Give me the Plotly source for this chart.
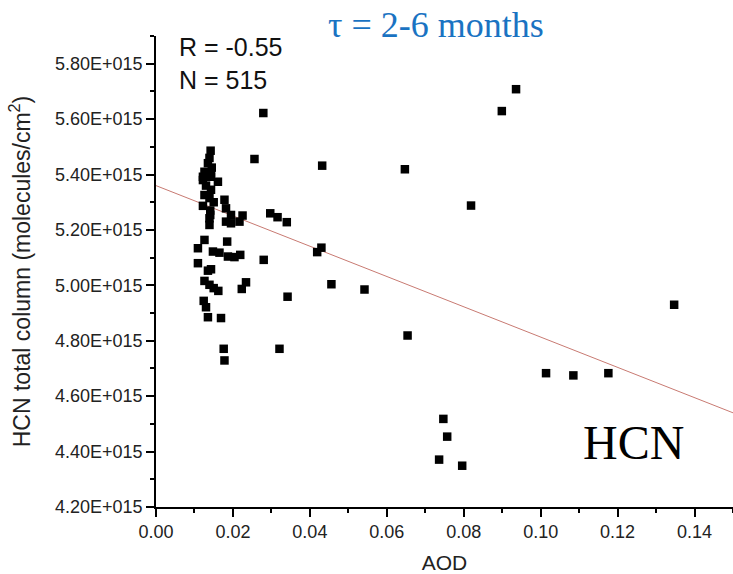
import plotly.graph_objects as go

# AOD values (x) and HCN total column in units of 1E15 molecules/cm^2 (y)
aod = [0.0936, 0.0899, 0.0432, 0.0647, 0.0819, 0.0430, 0.0419, 0.0456, 0.0542, 0.0654,
       0.1347, 0.1014, 0.1085, 0.1176, 0.0279, 0.0256, 0.0747, 0.0757, 0.0736, 0.0796,
       0.0321, 0.0342, 0.0280, 0.0297, 0.0316, 0.0340,
       0.0142, 0.0139, 0.0135, 0.0126, 0.0143, 0.0122, 0.0143, 0.0122, 0.0161, 0.0130,
       0.0143, 0.0126, 0.0139, 0.0178, 0.0122, 0.0182, 0.0141, 0.0195, 0.0225, 0.0139,
       0.0141, 0.0139, 0.0182, 0.0195, 0.0217, 0.0126, 0.0185, 0.0109, 0.0148, 0.0165,
       0.0187, 0.0204, 0.0219, 0.0109, 0.0143, 0.0135, 0.0126, 0.0139, 0.0150, 0.0162,
       0.0234, 0.0223, 0.0124, 0.0130, 0.0135, 0.0169, 0.0176, 0.0178, 0.0150, 0.0145]
hcn_e15 = [5.708, 5.629, 5.432, 5.419, 5.288, 5.136, 5.120, 5.004, 4.985, 4.819,
           4.930, 4.683, 4.675, 4.683, 5.622, 5.456, 4.518, 4.454, 4.371, 4.349,
           4.771, 4.959, 5.092, 5.260, 5.246, 5.228,
           5.486, 5.460, 5.441, 5.410, 5.405, 5.392, 5.392, 5.380, 5.374, 5.360,
           5.345, 5.326, 5.315, 5.309, 5.287, 5.278, 5.270, 5.254, 5.252, 5.242,
           5.254, 5.218, 5.230, 5.224, 5.230, 5.164, 5.158, 5.134, 5.122, 5.118,
           5.104, 5.102, 5.110, 5.080, 5.058, 5.053, 5.016, 5.002, 4.990, 4.980,
           5.011, 4.987, 4.944, 4.921, 4.885, 4.882, 4.771, 4.729, 5.300, 5.425]

# Linear fit line endpoints
fit_aod = [0.0, 0.15]
fit_hcn_e15 = [5.36, 4.54]

y_tick_vals_e15 = [4.2, 4.4, 4.6, 4.8, 5.0, 5.2, 5.4, 5.6, 5.8]
y_tick_text = ["4.20E+015", "4.40E+015", "4.60E+015", "4.80E+015", "5.00E+015",
               "5.20E+015", "5.40E+015", "5.60E+015", "5.80E+015"]

SCALE = 1e15
hcn = [v * SCALE for v in hcn_e15]
fit_hcn = [v * SCALE for v in fit_hcn_e15]
y_tick_vals = [v * SCALE for v in y_tick_vals_e15]

SANS = "Liberation Sans, Arial, sans-serif"
SERIF = "Liberation Serif, Times New Roman, serif"

fig = go.Figure()
fig.add_trace(go.Scatter(x=fit_aod, y=fit_hcn, mode="lines",
                         line=dict(color="#c87a72", width=1), showlegend=False,
                         hoverinfo="skip"))
fig.add_trace(go.Scatter(x=aod, y=hcn, mode="markers",
                         marker=dict(symbol="square", size=8.5, color="black",
                                     line=dict(width=0)),
                         showlegend=False))

tick_font = dict(family=SANS, size=18, color="#222")

fig.update_layout(
    width=733, height=574,
    margin=dict(l=156, r=0, t=36, b=67),
    paper_bgcolor="white", plot_bgcolor="white",
    xaxis=dict(range=[0, 0.15], dtick=0.02, tick0=0, tickformat=".2f",
               showline=True, linecolor="black", linewidth=1.5,
               ticks="outside", ticklen=8, tickwidth=1.5, tickcolor="black",
               minor=dict(dtick=0.01, tick0=0, ticks="outside", ticklen=4,
                          tickwidth=1.5, tickcolor="black"),
               showgrid=False, zeroline=False, tickfont=tick_font,
               title=dict(text="AOD", font=dict(family=SANS, size=21, color="#222"),
                          standoff=16)),
    yaxis=dict(range=[4.2e15, 5.9e15], tickmode="array",
               tickvals=y_tick_vals, ticktext=y_tick_text,
               showline=True, linecolor="black", linewidth=1.5,
               ticks="outside", ticklen=8, tickwidth=1.5, tickcolor="black",
               minor=dict(dtick=1e14, tick0=4.2e15, ticks="outside", ticklen=4,
                          tickwidth=1.5, tickcolor="black"),
               showgrid=False, zeroline=False, tickfont=tick_font,
               title=dict(text="HCN total column (molecules/cm<sup>2</sup>)",
                          font=dict(family=SANS, size=23, color="#222"), standoff=18)),
)

fig.add_annotation(xref="paper", yref="paper", x=0.036, y=0.977, xanchor="left",
                   yanchor="middle", showarrow=False,
                   text="R = -0.55", font=dict(family=SANS, size=25, color="#111"))
fig.add_annotation(xref="paper", yref="paper", x=0.036, y=0.907, xanchor="left",
                   yanchor="middle", showarrow=False,
                   text="N = 515", font=dict(family=SANS, size=25, color="#111"))
fig.add_annotation(xref="paper", yref="paper", x=0.486, y=1.023, xanchor="center",
                   yanchor="middle", showarrow=False,
                   text="τ = 2-6 months", font=dict(family=SERIF, size=36, color="#1a73c2"))
fig.add_annotation(xref="paper", yref="paper", x=0.827, y=0.138, xanchor="center",
                   yanchor="middle", showarrow=False,
                   text="HCN", font=dict(family=SERIF, size=48, color="black"))

fig.write_html("out.html", config={"displayModeBar": False},
               post_script="document.body.style.margin='0';document.body.style.padding='0';")
